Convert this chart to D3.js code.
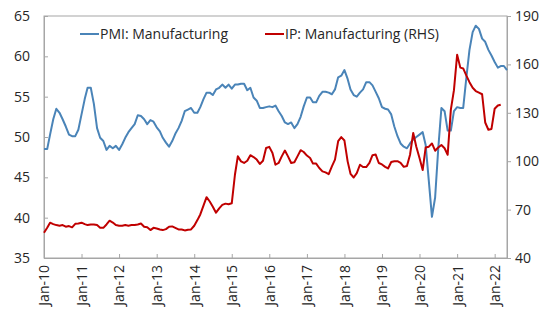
<!DOCTYPE html>
<html>
<head>
<meta charset="utf-8">
<script src="https://cdn.jsdelivr.net/npm/d3@7"></script>
<style>
  body { margin: 0; background: #fff; }
  text { font-family: "Open Sans", "Noto Sans", sans-serif; fill: #262626; }
</style>
</head>
<body>
<div id="chart"></div>
<script>
// monthly, Jan-10 onwards
const pmi = [
  48.5, 48.5, 50.3, 52.2, 53.5, 53.0, 52.2, 51.3, 50.3, 50.1, 50.1, 50.9,
  52.8, 54.7, 56.1, 56.1, 54.1, 51.1, 49.9, 49.5, 48.4, 48.9, 48.6, 48.9,
  48.4, 49.1, 49.9, 50.6, 51.1, 51.6, 52.7, 52.6, 52.2, 51.6, 52.1, 51.9,
  51.2, 50.7, 49.9, 49.3, 48.8, 49.5, 50.4, 51.1, 52.0, 53.2, 53.4, 53.6,
  53.0, 53.0, 53.7, 54.7, 55.5, 55.5, 55.2, 55.9, 56.1, 56.5, 56.1, 56.5,
  56.0, 56.5, 56.5, 56.6, 56.6, 55.8, 56.1, 54.9, 54.5, 53.6, 53.6, 53.7,
  53.8, 53.7, 53.9, 53.2, 52.6, 51.8, 51.6, 51.8, 51.1, 51.6, 52.5, 53.8,
  54.9, 54.9, 54.3, 54.3, 55.1, 55.6, 55.6, 55.5, 55.3, 55.9, 57.4, 57.6,
  58.3, 57.2, 55.9, 55.2, 55.0, 55.5, 55.9, 56.8, 56.8, 56.4, 55.6, 54.8,
  53.7, 53.5, 53.4, 52.8, 51.3, 50.1, 49.2, 48.8, 48.6, 49.2, 49.7, 50.0,
  50.3, 50.6, 49.0, 44.5, 40.1, 42.5, 48.5, 53.6, 53.2, 50.8, 50.8, 53.2,
  53.7, 53.6, 53.6, 57.4, 60.8, 63.0, 63.8, 63.4, 62.2, 61.8, 60.8, 60.1,
  59.3, 58.6, 58.8, 58.8, 58.3
];
const ip = [
  55.6, 58.7, 61.9, 61.0, 60.4, 60.0, 60.4, 59.4, 59.8, 59.0, 61.2, 61.4,
  61.9, 61.0, 60.4, 60.8, 60.8, 60.4, 58.7, 58.7, 60.8, 63.1, 62.0, 60.4,
  60.0, 60.0, 60.4, 60.0, 60.4, 60.4, 60.8, 61.4, 59.4, 59.0, 57.3, 58.7,
  58.3, 57.7, 57.3, 57.9, 59.4, 59.6, 58.7, 57.7, 57.7, 57.1, 57.5, 57.7,
  60.0, 63.5, 67.0, 72.5, 77.7, 75.0, 71.8, 68.1, 70.8, 72.9, 73.7, 73.3,
  73.9, 91.6, 103.0, 99.9, 98.9, 100.3, 103.7, 102.6, 101.0, 98.3, 100.3, 108.2,
  108.9, 105.1, 97.8, 98.9, 103.0, 106.6, 103.0, 98.9, 99.3, 103.0, 106.8, 105.7,
  103.5, 102.0, 98.5, 98.5, 95.8, 93.7, 93.1, 92.0, 96.8, 101.0, 112.4, 114.9,
  112.8, 99.9, 92.2, 89.9, 92.6, 97.8, 96.4, 96.4, 98.9, 103.7, 104.1, 98.9,
  98.0, 96.5, 95.5, 99.5, 100.0, 100.0, 99.0, 96.5, 97.0, 104.0, 117.5, 109.0,
  102.0, 94.5, 108.5, 109.0, 111.0, 106.5, 108.5, 110.0, 108.0, 104.0, 132.0, 144.0,
  166.0, 158.0, 157.5, 153.0, 149.0, 145.5, 143.5, 142.5, 141.5, 124.0, 119.5, 120.0,
  132.5, 134.5, 135.0
];
const leftTicks = [35, 40, 45, 50, 55, 60, 65];
const rightTicks = [40, 70, 100, 130, 160, 190];
const yearTicks = d3.range(2010, 2023);
const seriesNames = ["PMI: Manufacturing", "IP: Manufacturing (RHS)"];

const width = 546, height = 314;
const margin = {top: 16, right: 39, bottom: 56, left: 44};
const w = width - margin.left - margin.right;
const h = height - margin.top - margin.bottom;

const svg = d3.select("#chart").append("svg")
  .attr("width", width)
  .attr("height", height);
const g = svg.append("g")
  .attr("transform", "translate(" + margin.left + "," + margin.top + ")");

const month = i => new Date(2010, i, 1);
const x = d3.scaleTime().domain([month(0), month(148)]).range([0, w]);
const yL = d3.scaleLinear().domain([35, 65]).range([h, 0]);
const yR = d3.scaleLinear().domain([40, 190]).range([h, 0]);

const axisColor = "#a6a6a6";
const fontSize = "14px";

// frame
g.append("rect")
  .attr("width", w).attr("height", h)
  .attr("fill", "none").attr("stroke", axisColor).attr("stroke-width", 1);

const left = g.append("g")
  .call(d3.axisLeft(yL).tickValues(leftTicks).tickSizeInner(-4).tickSizeOuter(0).tickPadding(14));
const right = g.append("g")
  .attr("transform", "translate(" + w + ",0)")
  .call(d3.axisRight(yR).tickValues(rightTicks).tickSizeInner(4).tickSizeOuter(0).tickPadding(4));
const bottom = g.append("g")
  .attr("transform", "translate(0," + h + ")")
  .call(d3.axisBottom(x).tickValues(yearTicks.map(y => new Date(y, 0, 1)))
    .tickFormat(d3.timeFormat("%b-%y")).tickSizeInner(-4).tickSizeOuter(0));

[left, right, bottom].forEach(a => {
  a.select(".domain").attr("stroke", axisColor);
  a.selectAll(".tick line").attr("stroke", axisColor);
  a.selectAll("text").style("font-size", fontSize).attr("fill", "#262626");
});
bottom.selectAll("text")
  .attr("transform", "rotate(-90)")
  .attr("text-anchor", "end")
  .attr("x", -7)
  .attr("y", 0)
  .attr("dy", "0.35em");

const linePmi = d3.line().x((d, i) => x(month(i))).y(d => yL(d));
const lineIp = d3.line().x((d, i) => x(month(i))).y(d => yR(d));

g.append("path").datum(pmi)
  .attr("fill", "none").attr("stroke", "#4a84b8").attr("stroke-width", 2)
  .attr("stroke-linejoin", "round").attr("d", linePmi);
g.append("path").datum(ip)
  .attr("fill", "none").attr("stroke", "#c00000").attr("stroke-width", 2)
  .attr("stroke-linejoin", "round").attr("d", lineIp);

// legend
const legend = [
  {name: seriesNames[0], color: "#4a84b8", x: 36},
  {name: seriesNames[1], color: "#c00000", x: 221}
];
const lg = g.selectAll(".legend").data(legend).enter().append("g")
  .attr("transform", d => "translate(" + d.x + ",18)");
lg.append("line").attr("x1", 0).attr("x2", 19).attr("y1", 0).attr("y2", 0)
  .attr("stroke", d => d.color).attr("stroke-width", 2);
lg.append("text").attr("x", 20).attr("dy", "0.35em")
  .style("font-size", fontSize).text(d => d.name);
</script>
</body>
</html>
